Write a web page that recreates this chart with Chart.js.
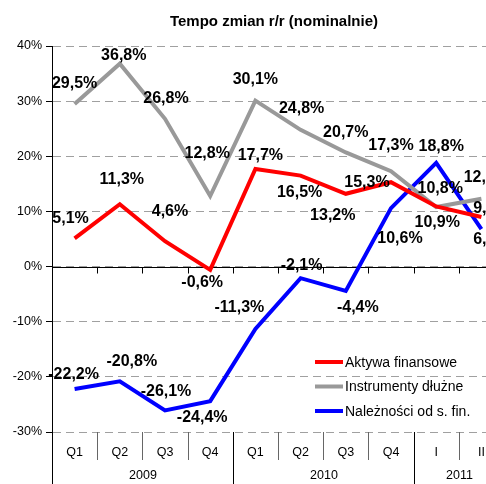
<!DOCTYPE html>
<html>
<head>
<meta charset="utf-8">
<script src="https://cdn.jsdelivr.net/npm/chart.js@4.4.1/dist/chart.umd.min.js"></script>
<style>
  html, body { margin: 0; padding: 0; overflow: hidden; background: #fff; }
  #wrap { position: absolute; left: 0; top: 0; width: 520px; height: 484px; }
</style>
</head>
<body>
<div id="wrap"><canvas id="chart" width="520" height="484"></canvas></div>
<script>
const quarters = ['Q1', 'Q2', 'Q3', 'Q4', 'Q1', 'Q2', 'Q3', 'Q4', 'I', 'II'];
const years = ['2009', '2010', '2011'];
const yearSpans = [4, 4, 2];
const yTicks = [-30, -20, -10, 0, 10, 20, 30, 40];

const aktywa = [5.1, 11.3, 4.6, -0.6, 17.7, 16.5, 13.2, 15.3, 10.9, 9.0];
const instrumenty = [29.5, 36.8, 26.8, 12.8, 30.1, 24.8, 20.7, 17.3, 10.8, 12.3];
const naleznosci = [-22.2, -20.8, -26.1, -24.4, -11.3, -2.1, -4.4, 10.6, 18.8, 6.8];

// przesunięcia etykiet względem punktów [dx, dy]
const offAktywa = [[-4, -20], [2, -25], [5, -30], [-8, 13], [5, -13], [-1, 17], [-13, 22], [-24, 0], [1, 16], [10, -8]];
const offInstrumenty = [[0, -20], [4, -8], [1, -20], [-3, -42], [0, -21], [1, -21], [0, -20], [0, -26], [4, -18], [5, -21]];
const offNaleznosci = [[-1, -14], [12, -20], [1, -19], [-8, 16], [-16, -21], [1, -13], [12, 17], [9, 30], [5, -16], [10, 11]];

const FONT = "'Liberation Sans', Arial, sans-serif";
const fmt = v => v.toFixed(1).replace('.', ',') + '%';

const decor = {
  id: 'decor',
  beforeDatasetsDraw(chart) {
    const { ctx, chartArea: a, scales: { x, y } } = chart;
    const y0 = Math.round(y.getPixelForValue(0)) + 0.5;
    const n = quarters.length;
    const bounds = [];
    for (let i = 0; i <= n; i++) {
      const px = i === 0 ? a.left : i === n ? a.right : (x.getPixelForValue(i - 1) + x.getPixelForValue(i)) / 2;
      bounds.push(Math.round(px) + 0.5);
    }
    ctx.save();
    ctx.lineWidth = 1;
    ctx.strokeStyle = '#000';
    ctx.setLineDash([]);
    ctx.beginPath();
    // oś zero z kreskami
    ctx.moveTo(a.left, y0); ctx.lineTo(a.right, y0);
    for (let i = 1; i < n; i++) { ctx.moveTo(bounds[i], y0); ctx.lineTo(bounds[i], y0 + 6); }
    // oś Y przedłużona w dół
    ctx.moveTo(bounds[0], a.top); ctx.lineTo(bounds[0], chart.height);
    // separatory lat
    let c = 0;
    const yearEdges = [];
    yearSpans.forEach(s => { c += s; yearEdges.push(c); });
    yearEdges.forEach(k => { if (k <= n) { ctx.moveTo(bounds[k], a.bottom); ctx.lineTo(bounds[k], chart.height); } });
    ctx.stroke();
    ctx.strokeStyle = '#666';
    ctx.beginPath();
    for (let i = 1; i < n; i++) {
      if (yearEdges.includes(i)) continue;
      ctx.moveTo(bounds[i], a.bottom); ctx.lineTo(bounds[i], a.bottom + 28);
    }
    ctx.stroke();
    // podpisy lat
    ctx.fillStyle = '#000';
    ctx.font = '12.5px ' + FONT;
    ctx.textAlign = 'center';
    ctx.textBaseline = 'middle';
    let start = 0;
    years.forEach((yr, j) => {
      const end = start + yearSpans[j];
      ctx.fillText(yr, (bounds[start] + bounds[end]) / 2, a.bottom + 44);
      start = end;
    });
    ctx.restore();
  },
  afterDatasetsDraw(chart) {
    const { ctx } = chart;
    ctx.save();
    ctx.fillStyle = '#000';
    ctx.font = 'bold 16px ' + FONT;
    ctx.textAlign = 'center';
    ctx.textBaseline = 'middle';
    chart.data.datasets.forEach((ds, di) => {
      chart.getDatasetMeta(di).data.forEach((pt, i) => {
        const o = ds.labelOffsets[i];
        ctx.fillText(fmt(ds.data[i]), pt.x + o[0], pt.y + o[1]);
      });
    });
    // legenda
    ctx.font = '14px ' + FONT;
    ctx.textAlign = 'left';
    chart.data.datasets.forEach((ds, di) => {
      const ly = 362 + di * 24.5;
      ctx.strokeStyle = ds.borderColor;
      ctx.lineWidth = 4;
      ctx.beginPath();
      ctx.moveTo(315, ly); ctx.lineTo(343, ly);
      ctx.stroke();
      ctx.fillText(ds.label, 345, ly + 1);
    });
    // tytuł
    ctx.font = 'bold 15px ' + FONT;
    ctx.textAlign = 'center';
    ctx.fillText('Tempo zmian r/r (nominalnie)', 274, 22);
    ctx.restore();
  }
};

new Chart(document.getElementById('chart').getContext('2d'), {
  type: 'line',
  data: {
    labels: quarters,
    datasets: [
      { label: 'Aktywa finansowe', data: aktywa, borderColor: '#ff0000', labelOffsets: offAktywa },
      { label: 'Instrumenty dłużne', data: instrumenty, borderColor: '#999999', labelOffsets: offInstrumenty },
      { label: 'Należności od s. fin.', data: naleznosci, borderColor: '#0000ff', labelOffsets: offNaleznosci }
    ]
  },
  options: {
    responsive: false,
    animation: false,
    devicePixelRatio: 1,
    layout: { padding: { top: 46, right: 16, left: 0, bottom: 0 } },
    elements: {
      line: { borderWidth: 4, tension: 0, borderJoinStyle: 'miter', fill: false },
      point: { radius: 0, hoverRadius: 0 }
    },
    plugins: { legend: { display: false }, tooltip: { enabled: false }, title: { display: false } },
    scales: {
      x: {
        offset: true,
        grid: { display: false },
        border: { display: false },
        ticks: { color: '#000', font: { family: FONT, size: 12.5 }, padding: 5, maxRotation: 0, autoSkip: false },
        afterFit(s) { s.height = 52; }
      },
      y: {
        min: -30,
        max: 40,
        afterBuildTicks(s) { s.ticks = yTicks.map(v => ({ value: v })); },
        ticks: { color: '#000', font: { family: FONT, size: 12.5 }, padding: 4, callback: v => v + '%' },
        grid: { color: '#a0a0a0', tickColor: '#000', tickLength: 6, tickBorderDash: [] },
        border: { color: '#000', dash: [8, 5] },
        afterFit(s) { s.width = 52; }
      }
    }
  },
  plugins: [decor]
});
</script>
</body>
</html>
